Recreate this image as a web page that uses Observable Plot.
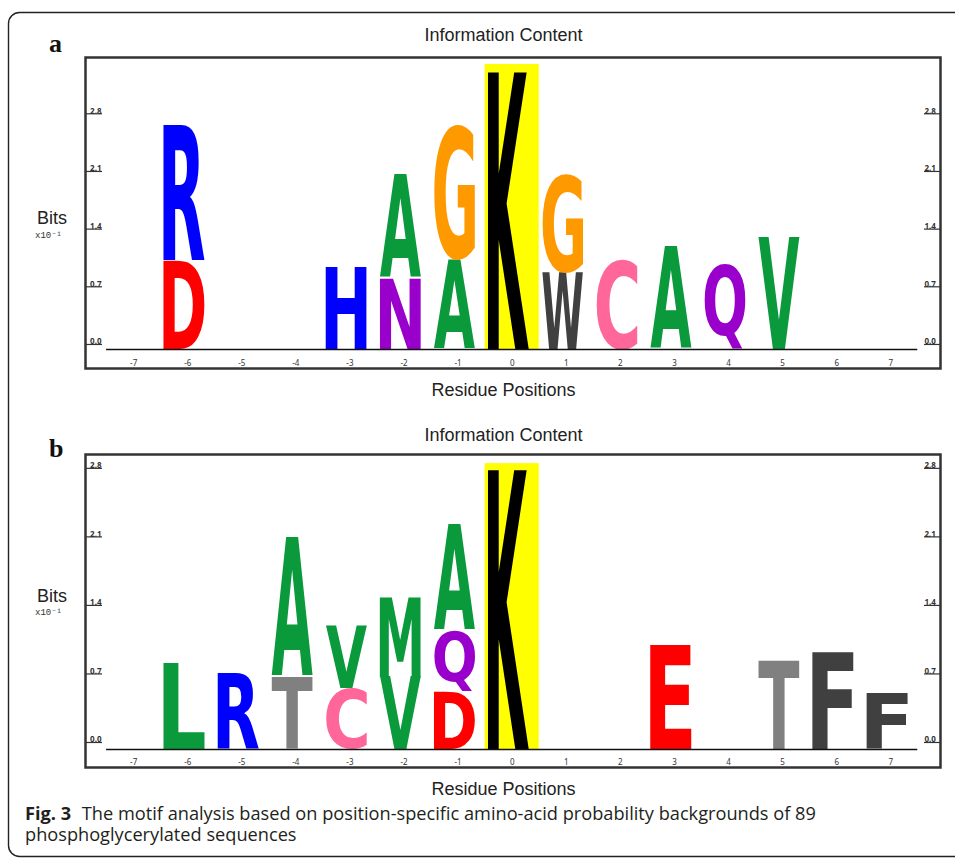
<!DOCTYPE html>
<html><head><meta charset="utf-8">
<script src="https://cdn.jsdelivr.net/npm/d3@7"></script>
<script src="https://cdn.jsdelivr.net/npm/@observablehq/plot@0.6"></script>
<style>
body{margin:0;background:#fff}
#fig{position:relative;width:955px;height:858px;overflow:hidden;background:#fff}
.panel{position:absolute;left:0;width:955px;height:400px}
#overlay{position:absolute;left:0;top:0}
</style></head><body>
<div id="fig">
 <div id="pa" class="panel" style="top:0"></div>
 <div id="pb" class="panel" style="top:400px"></div>
 <svg id="overlay" width="955" height="858"></svg>
</div>
<script>
// ---------- data ----------
const residuePositions = [-7,-6,-5,-4,-3,-2,-1,0,1,2,3,4,5,6,7];
const yTicks = [0.0, 0.7, 1.4, 2.1, 2.8];

// Panel a: stacks listed bottom -> top at each position
const aPos  = [-6, -6, -3, -2, -2, -1, -1, 0, 1, 1, 2, 3, 4, 5];
const aRes  = ["D","R","H","N","A","A","G","K","W","G","C","A","Q","V"];
const aBits = [1.08,1.65,1.00,0.86,1.26,1.09,1.65,3.36,0.93,1.20,1.10,1.25,1.03,1.36];
const aHighlightPos = [0];
const aHighlightTop = [3.46];

// Panel b
const bPos  = [-6, -5, -4, -4, -3, -3, -2, -2, -1, -1, -1, 0, 3, 5, 6, 7];
const bRes  = ["L","R","T","A","C","V","V","M","D","Q","A","K","E","T","F","F"];
const bBits = [0.88,0.77,0.74,1.43,0.62,0.64,0.74,0.81,0.59,0.62,1.09,2.85,1.07,0.91,0.99,0.57];
const bHighlightPos = [0];
const bHighlightTop = [2.92];

const residueColors = {
  A:"#0a9a3c", V:"#0a9a3c", L:"#0a9a3c", M:"#0a9a3c",
  R:"#0000ff", H:"#0000ff",
  D:"#ff0000", E:"#ff0000",
  N:"#9900cc", Q:"#9900cc",
  G:"#ff9900", C:"#ff6699",
  K:"#000000", W:"#404040", F:"#404040", T:"#808080"
};

// ---------- helpers ----------
const NS = "http://www.w3.org/2000/svg";
const LETTER_FONT = "'DejaVu Sans', sans-serif";
const mctx = document.createElement("canvas").getContext("2d");
mctx.font = "bold 100px 'DejaVu Sans', sans-serif";
mctx.textAlign = "left";
mctx.textBaseline = "alphabetic";
function inkBox(ch){
  const m = mctx.measureText(ch);
  return {l:m.actualBoundingBoxLeft, r:m.actualBoundingBoxRight, a:m.actualBoundingBoxAscent, d:m.actualBoundingBoxDescent};
}
function stack(pos, res, bits){
  const base = new Map();
  return pos.map((p,i)=>{
    const y1 = base.get(p) ?? 0, y2 = y1 + bits[i];
    base.set(p, y2);
    return {pos:p, res:res[i], y1, y2};
  });
}
function letterMark(stacks){
  return (index, scales) => {
    const {x, y} = scales;
    const g = document.createElementNS(NS, "g");
    g.setAttribute("aria-label", "residue letters");
    g.setAttribute("text-anchor", "start");
    for (const s of stacks){
      const b = inkBox(s.res);
      const X1 = x(s.pos - 0.44), X2 = x(s.pos + 0.32);
      const Yt = y(s.y2), Yb = y(s.y1);
      const t = document.createElementNS(NS, "text");
      t.textContent = s.res;
      t.setAttribute("text-anchor", "start");
      t.setAttribute("font-family", LETTER_FONT);
      t.setAttribute("font-size", 100);
      t.setAttribute("font-weight", "bold");
      t.setAttribute("fill", residueColors[s.res]);
      t.setAttribute("transform",
        `translate(${X1},${Yt}) scale(${(X2-X1)/(b.l+b.r)},${(Yb-Yt)/(b.a+b.d)}) translate(${b.l},${b.a})`);
      g.appendChild(t);
    }
    return g;
  };
}

function logo(cfg){
  const stacks = stack(cfg.pos, cfg.res, cfg.bits);
  const hl = cfg.hlPos.map((p,i)=>({pos:p, top:cfg.hlTop[i]}));
  return Plot.plot({
    width: 955, height: 400,
    marginTop: cfg.mt, marginBottom: cfg.mb, marginLeft: 85, marginRight: 15,
    x: {domain: [-7.89, 7.92], axis: null},
    y: {domain: cfg.ydomain, axis: null},
    style: {background: "transparent", overflow: "visible"},
    marks: [
      Plot.rect(hl, {x1: d=>d.pos-0.5, x2: d=>d.pos+0.5, y1: 0, y2: d=>d.top, fill: "#ffff00"}),
      letterMark(stacks),
      Plot.ruleY([0], {x1: -7.5, x2: 7.5, stroke: "#111", strokeWidth: 1.6}),
      Plot.axisX({anchor: "bottom", ticks: residuePositions, tickFormat: d=>String(d), tickSize: 0, tickPadding: 0, dy: -8, fontSize: 8, color: "#333", label: null}),
      Plot.axisY({anchor: "left", ticks: yTicks, tickFormat: d3.format(".1f"), tickSize: -17, tickPadding: 1, dy: cfg.tickDy, lineAnchor: "bottom", fontSize: 8, fontWeight: "bold", color: "#333", strokeWidth: 1.2, label: null}),
      Plot.axisY({anchor: "right", ticks: yTicks, tickFormat: d3.format(".1f"), tickSize: -17, tickPadding: 1, dy: cfg.tickDy, lineAnchor: "bottom", fontSize: 8, fontWeight: "bold", color: "#333", strokeWidth: 1.2, label: null}),
      Plot.frame({stroke: "#333", strokeWidth: 2.5})
    ]
  });
}

document.getElementById("pa").appendChild(logo({
  pos:aPos, res:aRes, bits:aBits, hlPos:aHighlightPos, hlTop:aHighlightTop,
  mt:57, mb:32, ydomain:[-0.231, 3.544], tickDy:-5
}));
document.getElementById("pb").appendChild(logo({
  pos:bPos, res:bRes, bits:bBits, hlPos:bHighlightPos, hlTop:bHighlightTop,
  mt:54, mb:33, ydomain:[-0.184, 3.013], tickDy:-7
}));

// ---------- annotations ----------
const ov = d3.select("#overlay");
ov.append("rect").attr("x",8.5).attr("y",12.5).attr("width",990).attr("height",844).attr("rx",11)
  .attr("fill","none").attr("stroke","#222").attr("stroke-width",1.4);

const sans = "'Liberation Sans', Arial, sans-serif";
const panelsText = [
  {lab:"a", labY:52, titleY:41, xlabY:396, bitsY:224, expY:238},
  {lab:"b", labY:457, titleY:441, xlabY:795, bitsY:602, expY:615}
];
for (const p of panelsText){
  ov.append("text").attr("x",49).attr("y",p.labY).text(p.lab)
    .style("font-family","'Liberation Serif', 'Times New Roman', serif").style("font-weight","bold").style("font-size","26px").attr("fill","#111");
  ov.append("text").attr("x",503.5).attr("y",p.titleY).attr("text-anchor","middle").text("Information Content")
    .style("font-family",sans).style("font-size","18px").attr("fill","#222");
  ov.append("text").attr("x",503.5).attr("y",p.xlabY).attr("text-anchor","middle").text("Residue Positions")
    .style("font-family",sans).style("font-size","18px").attr("fill","#222");
  ov.append("text").attr("x",37).attr("y",p.bitsY).text("Bits")
    .style("font-family",sans).style("font-size","18px").attr("fill","#222");
  ov.append("text").attr("x",35).attr("y",p.expY).text("x10\u207B\u00B9")
    .style("font-family","'Liberation Mono', monospace").style("font-size","9px").attr("fill","#333");
}
const capFont = "'Open Sans', sans-serif";
const c1 = ov.append("text").attr("x",25).attr("y",820).style("font-family",capFont).style("font-size","18.2px").attr("fill","#231f20");
c1.append("tspan").style("font-weight","bold").text("Fig. 3");
c1.append("tspan").attr("dx",6).text(" The motif analysis based on position-specific amino-acid probability backgrounds of 89");
ov.append("text").attr("x",25).attr("y",841).style("font-family",capFont).style("font-size","18.2px").attr("fill","#231f20")
  .text("phosphoglycerylated sequences");
</script>
</body></html>
